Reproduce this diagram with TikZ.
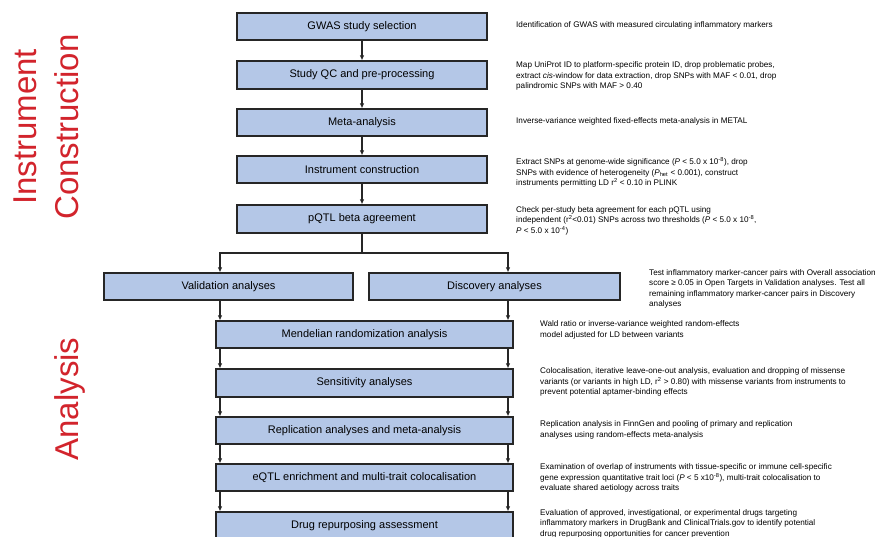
\documentclass[tikz,border=0pt]{standalone}
\usepackage{fontspec}
\setmainfont{Liberation Sans}
\usetikzlibrary{arrows.meta}
\definecolor{boxfill}{RGB}{180,199,231}
\definecolor{boxline}{RGB}{38,38,38}
\definecolor{lblred}{RGB}{210,36,44}
\tikzset{
  box/.style={draw=boxline, fill=boxfill, line width=1.2pt, inner sep=0pt,
    font=\fontsize{11}{13}\selectfont, text=black},
  note/.style={anchor=west, align=left, inner sep=0pt,
    font=\fontsize{8.15}{10.4}\selectfont, text=black},
  arr/.style={draw=boxline, line width=1.2pt, -{Latex[length=5pt,width=4.5pt]}},
  conn/.style={draw=boxline, line width=1.2pt},
  sectlbl/.style={rotate=90, text=lblred, align=center, inner sep=0pt,
    font=\fontsize{33}{42}\selectfont}
}
\begin{document}
\begin{tikzpicture}[x=1pt,y=-1pt]
\useasboundingbox (0,0) rectangle (875,536);
% section labels
\node[sectlbl] (lblinst) at (46,127) {Instrument\\Construction};
\node[sectlbl, anchor=base] (lblana) at (78,399) {Analysis};
% instrument construction boxes
\node[box, minimum width=250pt, minimum height=27pt] (gwas) at (362,26.5) {GWAS study selection};
\node[box, minimum width=250pt, minimum height=28pt] (qc) at (362,75) {Study QC and pre-processing};
\node[box, minimum width=250pt, minimum height=27pt] (meta) at (362,122.5) {Meta-analysis};
\node[box, minimum width=250pt, minimum height=27pt] (inst) at (362,169.5) {Instrument construction};
\node[box, minimum width=250pt, minimum height=28pt] (pqtl) at (362,219) {pQTL beta agreement};
% split
\node[box, minimum width=249pt, minimum height=27pt] (val) at (228.5,286.5) {Validation analyses};
\node[box, minimum width=251pt, minimum height=27pt] (disc) at (494.5,286.5) {Discovery analyses};
% analysis boxes
\node[box, minimum width=297pt, minimum height=27pt] (mr) at (364.5,334.5) {Mendelian randomization analysis};
\node[box, minimum width=297pt, minimum height=28pt] (sens) at (364.5,383) {Sensitivity analyses};
\node[box, minimum width=297pt, minimum height=27pt] (rep) at (364.5,430.5) {Replication analyses and meta-analysis};
\node[box, minimum width=297pt, minimum height=27pt] (eqtl) at (364.5,477.5) {eQTL enrichment and multi-trait colocalisation};
\node[box, minimum width=297pt, minimum height=28pt] (drug) at (364.5,526) {Drug repurposing assessment};
% helper coordinates
\coordinate (la) at (220,0);
\coordinate (ra) at (508,0);
\coordinate (split) at (362,253);
% arrows
\draw[arr] (gwas.south) -- (qc.north);
\draw[arr] (qc.south) -- (meta.north);
\draw[arr] (meta.south) -- (inst.north);
\draw[arr] (inst.south) -- (pqtl.north);
\draw[conn] (pqtl.south) -- (split);
\draw[arr] (split) -| (val.north -| la);
\draw[arr] (split) -| (disc.north -| ra);
\draw[arr] (val.south -| la) -- (mr.north -| la);
\draw[arr] (disc.south -| ra) -- (mr.north -| ra);
\foreach \a/\b in {mr/sens, sens/rep, rep/eqtl, eqtl/drug}{
  \draw[arr] (\a.south -| la) -- (\b.north -| la);
  \draw[arr] (\a.south -| ra) -- (\b.north -| ra);
}
% notes
\node[note] (n1) at (516,25) {Identification of GWAS with measured circulating inflammatory markers};
\node[note] (n2) at (516,76) {Map UniProt ID to platform-specific protein ID, drop problematic probes,\\extract \textit{cis}-window for data extraction, drop SNPs with MAF < 0.01, drop\\palindromic SNPs with MAF > 0.40};
\node[note] (n3) at (516,121) {Inverse-variance weighted fixed-effects meta-analysis in METAL};
\node[note] (n4) at (516,172.5) {Extract SNPs at genome-wide significance (\textit{P} < 5.0 x 10\textsuperscript{-8}), drop\\SNPs with evidence of heterogeneity (\textit{P}\textsubscript{het} < 0.001), construct\\instruments permitting LD r\textsuperscript{2} < 0.10 in PLINK};
\node[note] (n5) at (516,220.5) {Check per-study beta agreement for each pQTL using\\independent (r\textsuperscript{2}<0.01) SNPs across two thresholds (\textit{P} < 5.0 x 10\textsuperscript{-8},\\\textit{P} < 5.0 x 10\textsuperscript{-4})};
\node[note] (n6) at (649,289) {Test inflammatory marker-cancer pairs with Overall association\\score ≥ 0.05 in Open Targets in Validation analyses. Test all\\remaining inflammatory marker-cancer pairs in Discovery\\analyses};
\node[note] (n7) at (540,330) {Wald ratio or inverse-variance weighted random-effects\\model adjusted for LD between variants};
\node[note] (n8) at (540,382) {Colocalisation, iterative leave-one-out analysis, evaluation and dropping of missense\\variants (or variants in high LD, r\textsuperscript{2} > 0.80) with missense variants from instruments to\\prevent potential aptamer-binding effects};
\node[note] (n9) at (540,430) {Replication analysis in FinnGen and pooling of primary and replication\\analyses using random-effects meta-analysis};
\node[note] (n10) at (540,478) {Examination of overlap of instruments with tissue-specific or immune cell-specific\\gene expression quantitative trait loci (\textit{P} < 5 x10\textsuperscript{-8}), multi-trait colocalisation to\\evaluate shared aetiology across traits};
\node[note] (n11) at (540,523.5) {Evaluation of approved, investigational, or experimental drugs targeting\\inflammatory markers in DrugBank and ClinicalTrials.gov to identify potential\\drug repurposing opportunities for cancer prevention};
\end{tikzpicture}
\end{document}
